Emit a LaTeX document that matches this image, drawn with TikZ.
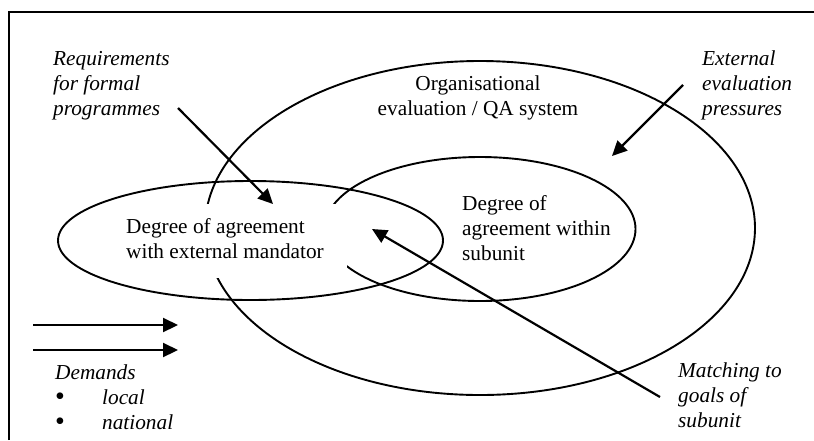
\documentclass[tikz,border=0pt]{standalone}
\usepackage{fontspec}
\setmainfont{Liberation Serif}
\usetikzlibrary{shapes.geometric,arrows.meta}
% a bullet set a little heavier than the running text, without changing line height
\newcommand{\listdot}{\makebox[47pt][l]{\smash{\raisebox{-1.5pt}{\upshape\fontsize{28}{0}\selectfont\textbullet}}}}
\begin{document}
\begin{tikzpicture}[x=1pt,y=-1pt,
  txt/.style={inner sep=0pt,align=left,anchor=base west,
    font=\fontsize{21.3}{24.7}\selectfont},
  ctxt/.style={txt,align=center,anchor=base},
  itxt/.style={txt,font=\fontsize{21.3}{24.7}\selectfont\itshape},
  ring/.style={draw,ellipse,line width=1.9pt,inner sep=0pt},
  push/.style={line width=2.2pt,-{Triangle[length=15pt,width=14pt]}}]
\useasboundingbox (0,0) rectangle (814,440);
\fill[white] (0,0) rectangle (814,440);

% open frame: left and top edges only
\draw[line width=1.5pt] (9,440) -- (9,12) -- (814,12);

% organisation and subunit regions
\node[ring,minimum width=550pt,minimum height=334pt] (org) at (480,228) {};
\node[ring,minimum width=311pt,minimum height=144pt] (sub) at (480,229) {};

% label panel for the mandator region masks the rings beneath it
% (multi-line nodes are placed by the baseline of their last line)
\fill[white] (118,204) rectangle (347,278);
\node[txt] (mandtxt) at (126,258) {Degree of agreement\\with external mandator};
\node[ring,minimum width=385pt,minimum height=119pt] (mand) at (250.5,240.5) {};

% region labels
\node[ctxt] (orgtxt) at (478,115) {Organisational\\evaluation / QA system};
\node[txt] (subtxt) at (462,260) {Degree of\\agreement within\\subunit};

% influence labels
\node[itxt] (req) at (53,115) {Requirements\\for formal\\programmes};
\node[itxt] (ext) at (702,115) {External\\evaluation\\pressures};
\node[itxt] (match) at (678,427) {Matching to\\goals of\\subunit};
\node[itxt] (dem) at (55,429) {Demands\\\listdot local\\\listdot national};

% arrow end points
\coordinate (reqS) at (178,108);  \coordinate (reqE) at (273,204);
\coordinate (extS) at (683,85);   \coordinate (extE) at (612,156);
\coordinate (matS) at (660,397);  \coordinate (matE) at (372,229);
\coordinate (dAS) at (33,325);    \coordinate (dAE) at (178,325);
\coordinate (dBS) at (33,350);    \coordinate (dBE) at (178,350);

\draw[push] (reqS) -- (reqE);
\draw[push] (extS) -- (extE);
\draw[push] (matS) -- (matE);
\draw[push] (dAS) -- (dAE);
\draw[push] (dBS) -- (dBE);
\end{tikzpicture}
\end{document}
